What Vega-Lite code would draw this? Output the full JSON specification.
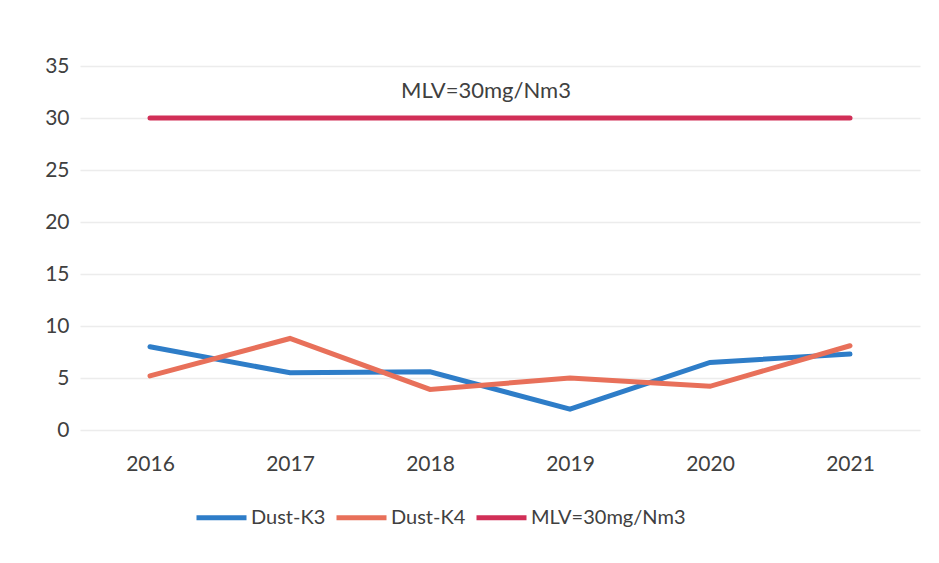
{
  "$schema": "https://vega.github.io/schema/vega-lite/v6.json",
  "width": 840,
  "height": 364,
  "autosize": {"type": "none"},
  "padding": {"left": 80, "top": 66, "right": 19, "bottom": 133},
  "background": "white",
  "config": {
    "font": "Lato",
    "view": {"stroke": null}
  },
  "datasets": {
    "series": [
      {"year": 2016, "series": "Dust-K3", "value": 8.0},
      {"year": 2017, "series": "Dust-K3", "value": 5.5},
      {"year": 2018, "series": "Dust-K3", "value": 5.6},
      {"year": 2019, "series": "Dust-K3", "value": 2.0},
      {"year": 2020, "series": "Dust-K3", "value": 6.5},
      {"year": 2021, "series": "Dust-K3", "value": 7.3},
      {"year": 2016, "series": "Dust-K4", "value": 5.2},
      {"year": 2017, "series": "Dust-K4", "value": 8.8},
      {"year": 2018, "series": "Dust-K4", "value": 3.9},
      {"year": 2019, "series": "Dust-K4", "value": 5.0},
      {"year": 2020, "series": "Dust-K4", "value": 4.2},
      {"year": 2021, "series": "Dust-K4", "value": 8.1},
      {"year": 2016, "series": "MLV=30mg/Nm3", "value": 30},
      {"year": 2017, "series": "MLV=30mg/Nm3", "value": 30},
      {"year": 2018, "series": "MLV=30mg/Nm3", "value": 30},
      {"year": 2019, "series": "MLV=30mg/Nm3", "value": 30},
      {"year": 2020, "series": "MLV=30mg/Nm3", "value": 30},
      {"year": 2021, "series": "MLV=30mg/Nm3", "value": 30}
    ],
    "note": [
      {"year": 2018.4, "value": 32.6, "label": "MLV=30mg/Nm3"}
    ]
  },
  "layer": [
    {
      "data": {"name": "series"},
      "mark": {"type": "line", "strokeWidth": 5, "strokeCap": "round"},
      "encoding": {
        "x": {
          "field": "year",
          "type": "quantitative",
          "scale": {"domain": [2015.5, 2021.5], "nice": false, "zero": false},
          "axis": {
            "title": null,
            "values": [2016, 2017, 2018, 2019, 2020, 2021],
            "format": "d",
            "grid": false,
            "domain": false,
            "ticks": false,
            "labelFontSize": 21,
            "labelColor": "#404040",
            "labelPadding": 23
          }
        },
        "y": {
          "field": "value",
          "type": "quantitative",
          "scale": {"domain": [0, 35], "nice": false},
          "axis": {
            "title": null,
            "values": [0, 5, 10, 15, 20, 25, 30, 35],
            "grid": true,
            "gridColor": "#ececec",
            "gridWidth": 1.5,
            "domain": false,
            "ticks": false,
            "labelFontSize": 21,
            "labelColor": "#404040",
            "labelPadding": 11
          }
        },
        "color": {
          "field": "series",
          "type": "nominal",
          "scale": {
            "domain": ["Dust-K3", "Dust-K4", "MLV=30mg/Nm3"],
            "range": ["#2E7DC8", "#E8705A", "#D12F57"]
          },
          "legend": {
            "title": null,
            "orient": "none",
            "legendX": 114,
            "legendY": 424,
            "direction": "horizontal",
            "symbolType": "stroke",
            "symbolSize": 2500,
            "symbolStrokeWidth": 5,
            "labelFontSize": 20,
            "labelColor": "#404040",
            "labelOffset": 2,
            "columnPadding": 0,
            "labelLimit": 300
          }
        }
      }
    },
    {
      "data": {"name": "note"},
      "mark": {"type": "text", "fontSize": 22, "color": "#404040", "align": "center", "baseline": "middle"},
      "encoding": {
        "x": {"field": "year", "type": "quantitative"},
        "y": {"field": "value", "type": "quantitative"},
        "text": {"field": "label"}
      }
    }
  ]
}
